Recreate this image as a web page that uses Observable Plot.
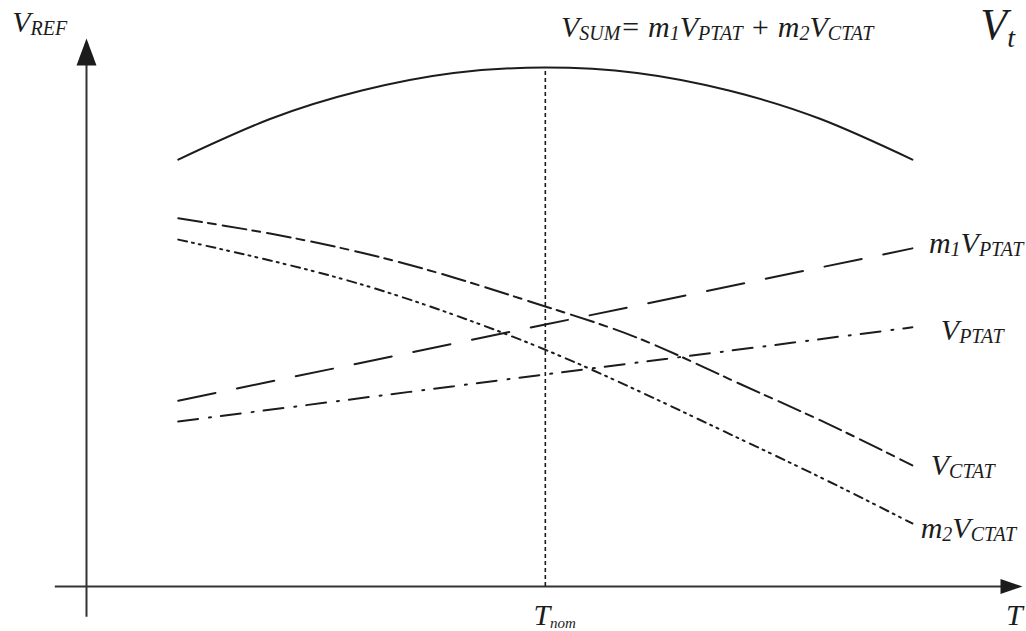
<!DOCTYPE html>
<html>
<head>
<meta charset="utf-8">
<script src="https://cdn.jsdelivr.net/npm/d3@7"></script>
<script src="https://cdn.jsdelivr.net/npm/@observablehq/plot@0.6"></script>
<style>
  body { margin: 0; background: #fff; }
  #chart svg { display: block; }
</style>
</head>
<body>
<div id="chart"></div>
<script>
// Temperature samples (arbitrary units, nominal temperature at 50)
const temps = [10, 20, 30, 40, 50, 60, 70, 80, 90];
const vSum = [77.9, 85.3, 90.5, 93.7, 94.7, 93.7, 90.5, 85.3, 77.9];
const vCtat = [67.2, 64.4, 60.9, 56.4, 51.1, 45.4, 37.9, 30.3, 22.1];
const m2vCtat = [63.3, 59.5, 55.1, 49.6, 43.2, 35.8, 27.9, 19.9, 11.5];

// PTAT voltages are linear in temperature
const ptatTemps = [10, 50, 90];
const m1vPtat = [33.9, 47.8, 61.7];
const vPtat = [30.1, 38.7, 47.3];

const tNom = 50;

// Curve labels (subscripts written as _{...})
const curveLabels = [
  {text: "V_{SUM}= m_{1}V_{PTAT} + m_{2}V_{CTAT}", t: 51.7, v: 100.2},
  {text: "m_{1}V_{PTAT}", t: 91.8, v: 60.8},
  {text: "V_{PTAT}", t: 93.1, v: 44.9},
  {text: "V_{CTAT}", t: 92.0, v: 20.3},
  {text: "m_{2}V_{CTAT}", t: 90.9, v: 8.8},
  {text: "V_{REF}", t: -8.1, v: 101.1},
  {text: "T", t: 100.2, v: -7.1}
];
const nomLabel = [{text: "T_{nom}", t: 48.7, v: -7.1}];
const cornerLabel = [{text: "V_{t}", t: 97.4, v: 100.0}];

const series = (xs, ys) => xs.map((t, i) => ({t, v: ys[i]}));

const ink = "#1c1c1c";
const serif = "'Liberation Serif', 'Times New Roman', serif";

// Filled arrowheads whose tip sits on the anchor point
const arrowUp = {draw(ctx) { ctx.moveTo(0, 0); ctx.lineTo(10, 27); ctx.lineTo(-10, 27); ctx.closePath(); }};
const arrowRight = {draw(ctx) { ctx.moveTo(0, 0); ctx.lineTo(-22, -7.5); ctx.lineTo(-22, 7.5); ctx.closePath(); }};

const lineOpts = (dash) => ({x: "t", y: "v", stroke: ink, strokeWidth: 2, curve: "natural", strokeDasharray: dash});

const textOpts = (size) => ({
  x: "t", y: "v", text: "text", textAnchor: "start", lineAnchor: "bottom",
  fontSize: size, fontFamily: serif, fontStyle: "italic", fill: ink
});

const chart = Plot.plot({
  width: 1026,
  height: 631,
  marginLeft: 86,
  marginRight: 4,
  marginTop: 38,
  marginBottom: 45,
  x: {domain: [0, 102], axis: null},
  y: {domain: [0, 100], axis: null},
  marks: [
    // axes with arrowheads
    Plot.ruleX([0], {y1: -5.6, y2: 96, stroke: "#333", strokeWidth: 2}),
    Plot.ruleY([0], {x1: -3.4, x2: 100, stroke: "#333", strokeWidth: 2}),
    Plot.dot([{t: 0, v: 100}], {x: "t", y: "v", symbol: arrowUp, fill: ink, stroke: "none"}),
    Plot.dot([{t: 102, v: 0}], {x: "t", y: "v", symbol: arrowRight, fill: ink, stroke: "none"}),

    // nominal temperature marker
    Plot.ruleX([tNom], {y1: 0, y2: d3.max(vSum), stroke: ink, strokeWidth: 1.6, strokeDasharray: "4,3"}),

    // voltage curves
    Plot.line(series(temps, vSum), lineOpts(null)),
    Plot.line(series(temps, vCtat), lineOpts("24,6,8,7")),
    Plot.line(series(temps, m2vCtat), lineOpts("9,5,2,5,2,6")),
    Plot.line(series(ptatTemps, m1vPtat), lineOpts("38,22")),
    Plot.line(series(ptatTemps, vPtat), lineOpts("20,11,2,10")),

    // labels
    Plot.text(curveLabels, textOpts(30)),
    Plot.text(nomLabel, textOpts(30)),
    Plot.text(cornerLabel, textOpts(44))
  ]
});

document.getElementById("chart").appendChild(chart);

// Turn _{...} runs into lowered, smaller tspans
const subStyle = new Map([
  ["T_{nom}", {size: 15, shift: 3}],
  ["V_{t}", {size: 28, shift: 8}]
]);
const SVGNS = "http://www.w3.org/2000/svg";
chart.querySelectorAll("text").forEach((el) => {
  const src = el.textContent;
  if (!src.includes("_{")) return;
  const {size, shift} = subStyle.get(src) || {size: 20, shift: 3};
  const parts = src.split(/(_\{[^}]*\})/).filter((s) => s.length);
  el.textContent = "";
  let lowered = false;
  for (const p of parts) {
    const ts = document.createElementNS(SVGNS, "tspan");
    if (p.startsWith("_{")) {
      ts.textContent = p.slice(2, -1);
      ts.setAttribute("font-size", size);
      if (!lowered) { ts.setAttribute("dy", shift); lowered = true; }
    } else {
      ts.textContent = p;
      if (lowered) { ts.setAttribute("dy", -shift); lowered = false; }
    }
    el.appendChild(ts);
  }
});
</script>
</body>
</html>
